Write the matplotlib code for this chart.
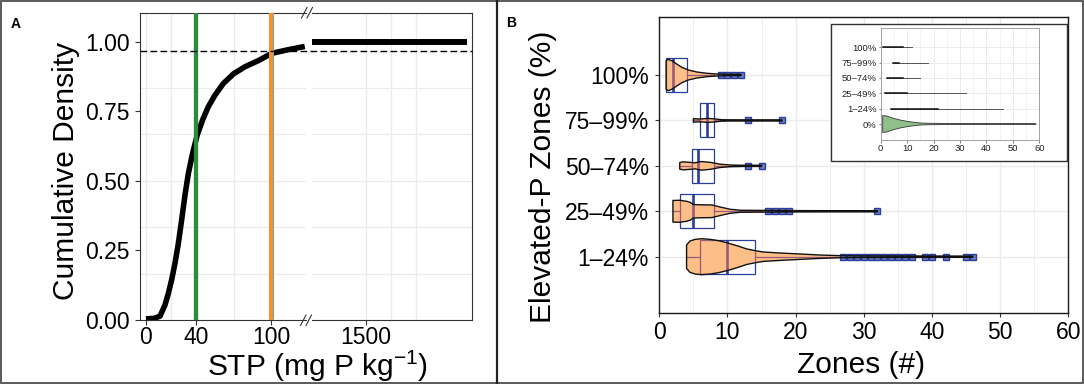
import matplotlib
matplotlib.use('Agg')
import matplotlib.pyplot as plt
from matplotlib.patches import Rectangle, Polygon
from matplotlib.lines import Line2D
import matplotlib.transforms as mtransforms
import numpy as np

plt.rcParams['font.family'] = ['Liberation Sans', 'DejaVu Sans']
plt.rcParams['mathtext.fontset'] = 'custom'
plt.rcParams['mathtext.rm'] = 'Liberation Sans'
plt.rcParams['mathtext.default'] = 'regular'

# ---------------- Panel A data ----------------
stp_values = [0, 6.7, 11.2, 15.2, 17.9, 20.5, 23.2, 25.9, 28.5, 31.2, 33.9, 37.3,
              41, 45.3, 49.8, 55.2, 61.9, 69.9, 79.2, 89.9, 100.5, 112.5, 127]
cum_density = [0.004, 0.006, 0.014, 0.054, 0.096, 0.144, 0.204, 0.276, 0.359, 0.449,
               0.527, 0.599, 0.665, 0.719, 0.766, 0.808, 0.850, 0.884, 0.910, 0.932,
               0.958, 0.970, 0.983]
stp_tail = [1283, 1903]
cum_tail = [1.0, 1.0]
threshold_low = 40
threshold_high = 100
ref_level = 0.965
a_xticks_left = [0, 40, 100]
a_xticks_right = [1500]
a_yticks = [0, 0.25, 0.5, 0.75, 1.0]
a_ytick_labels = ['0.00', '0.25', '0.50', '0.75', '1.00']

# ---------------- Panel B data ----------------
categories = ['1\u201324%', '25\u201349%', '50\u201374%', '75\u201399%', '100%']
box_q1 = [6, 3, 4.75, 6, 1]
box_med = [10, 5, 5.75, 7, 2]
box_q3 = [14, 8, 8, 8, 4]
whisk_lo = [4, 2, 3, 5, 1]
whisk_hi = [26, 15, 12, 9, 8]
outliers = [
    [27, 28, 29, 30, 31, 32, 33, 34, 35, 36, 37, 39, 40, 42, 45, 46],
    [16, 17, 18, 19, 32],
    [13, 15],
    [13, 18],
    [9, 10, 11, 12],
]
violin_x = [
    [4, 4.5, 5.25, 6.2, 7.5, 8.7, 9.9, 11.4, 12.85, 14.1, 15.3, 17.75, 20.7, 23.6, 26.6, 30, 46],
    [2, 3, 4, 4.5, 5, 6, 7.7, 8.9, 10.4, 11.9, 14, 19, 25, 32],
    [3, 3.5, 4.5, 5.2, 6.2, 7.45, 8.9, 10.4, 12, 15],
    [5, 6, 7.2, 8.4, 9.2, 11, 18],
    [1, 1.32, 1.82, 2.55, 3.3, 4.26, 5.5, 7, 8.4, 10, 12],
]
violin_half = [
    [0.258, 0.346, 0.381, 0.396, 0.381, 0.352, 0.308, 0.242, 0.170, 0.132, 0.103, 0.081, 0.059, 0.037, 0.022, 0.018, 0.013],
    [0.238, 0.242, 0.220, 0.198, 0.148, 0.143, 0.139, 0.095, 0.044, 0.022, 0.020, 0.015, 0.013, 0.013],
    [0.073, 0.088, 0.077, 0.066, 0.095, 0.077, 0.037, 0.018, 0.013, 0.013],
    [0.037, 0.031, 0.044, 0.029, 0.015, 0.013, 0.013],
    [0.315, 0.346, 0.315, 0.242, 0.170, 0.110, 0.066, 0.037, 0.022, 0.015, 0.013],
]
b_xticks = [0, 10, 20, 30, 40, 50, 60]

# ---------------- Inset data ----------------
inset_categories = ['0%', '1\u201324%', '25\u201349%', '50\u201374%', '75\u201399%', '100%']
inset_start = [3.8, 1.75, 2.5, 4.8, 1.0]
inset_dense_end = [21.7, 10, 8.4, 7.1, 8.4]
inset_end = [46.4, 32.4, 15, 18, 12]
zero_x = [0.76, 2.3, 4.8, 7.3, 9.9, 12.5, 15, 19, 27, 58.7]
zero_half = [0.55, 0.52, 0.37, 0.26, 0.176, 0.111, 0.065, 0.046, 0.030, 0.02]

# ---------------- Styling ----------------
W, H = 1084, 384
GRID = '#ebebeb'
ORANGE_FILL = '#fdbf87'
BLUE = '#2b3d9c'
MAUVE = '#9a5a7a'
GREEN = '#2e8b3e'
ORANGE = '#f7931e'
TICK_FS = 16.5
TITLE_FS = 21.5

fig = plt.figure(figsize=(W / 100, H / 100), dpi=100)
fig.patch.set_facecolor('white')


def rect(l, t, r, b):
    return [l / W, 1 - b / H, (r - l) / W, (b - t) / H]


def fx(px):
    return px / W


def fy(py):
    return 1 - py / H


# ============ Panel A ============
axL = fig.add_axes(rect(140, 13.3, 306, 320))
axR = fig.add_axes(rect(311.7, 13.3, 472.3, 320))
for ax in (axL, axR):
    ax.set_ylim(0, 1.102)
    for s in ax.spines.values():
        s.set_color('#333333')
        s.set_linewidth(0.8)
    ax.tick_params(colors='#333333', length=3.6, width=0.8, labelsize=TICK_FS,
                   labelcolor='black', pad=0.8)
    for k in range(1, 6):
        ax.axhline(k / 6, color=GRID, lw=0.9, zorder=0.5)
axL.set_xlim(-4.8, 128)
axR.set_xlim(1283, 1925.4)
axL.spines['right'].set_visible(False)
axR.spines['left'].set_visible(False)
axR.tick_params(axis='y', left=False, labelleft=False)
axL.tick_params(axis='y', pad=3.6)

for v in [0, 20, 40, 70, 100]:
    axL.axvline(v, color=GRID, lw=0.9, zorder=0.5)
for v in [1500, 1600, 1700]:
    axR.axvline(v, color=GRID, lw=0.9, zorder=0.5)

axL.set_xticks(a_xticks_left)
axL.set_xticklabels([str(v) for v in a_xticks_left])
axR.set_xticks(a_xticks_right)
axR.set_xticklabels([str(v) for v in a_xticks_right])
axL.set_yticks(a_yticks)
axL.set_yticklabels(a_ytick_labels)

axL.plot(stp_values, cum_density, color='black', lw=4.0, zorder=3,
         solid_capstyle='butt', solid_joinstyle='round')
axR.plot(stp_tail, cum_tail, color='black', lw=4.3, zorder=3,
         solid_capstyle='butt')

axL.axvline(threshold_low, color=GREEN, lw=3.1, zorder=4)
axL.axvline(threshold_high, color='#8a9ab0', lw=3.6, zorder=4)
axL.axvline(threshold_high, color=ORANGE, lw=2.7, zorder=4.1)

# dashed reference line spanning both segments
bt = mtransforms.blended_transform_factory(fig.transFigure, axL.transData)
fig.add_artist(Line2D([fx(140), fx(472.3)], [ref_level, ref_level], transform=bt,
                      color='black', lw=1.0, dashes=(4.8, 2.4), zorder=5))

# break marks
for (x0, y0) in [(301.5, 18.0), (307.0, 18.0), (300.5, 325.5), (306.0, 325.5)]:
    fig.add_artist(Line2D([fx(x0), fx(x0 + 5.5)], [fy(y0), fy(y0 - 10.5)],
                          transform=fig.transFigure, color='#333333', lw=0.8))

fig.text(fx(74), fy(170.7), 'Cumulative Density', rotation=90, rotation_mode='anchor',
         ha='center', va='baseline', fontsize=TITLE_FS)
fig.text(fx(317), fy(376.5), 'STP (mg P kg$^{-1}$)', ha='center', va='baseline',
         fontsize=TITLE_FS)
fig.text(fx(11), fy(28), 'A', fontsize=10, fontweight='bold', ha='left', va='baseline')

# ============ Panel B ============
axB = fig.add_axes(rect(659.3, 17.3, 1068.3, 313.3))
axB.set_xlim(0, 60)
axB.set_ylim(-0.246, 6.27)
for s in axB.spines.values():
    s.set_color('#1a1a1a')
    s.set_linewidth(1.0)
for v in range(5, 60, 10):
    axB.axvline(v, color=GRID, lw=0.6, zorder=0.5)
for v in range(0, 61, 10):
    axB.axvline(v, color=GRID, lw=1.0, zorder=0.5)
for p in range(1, 6):
    axB.axhline(p, color=GRID, lw=1.0, zorder=0.5)
axB.set_xticks(b_xticks)
axB.set_xticklabels([str(v) for v in b_xticks])
axB.set_yticks(range(1, 6))
axB.set_yticklabels(categories)
axB.tick_params(colors='#333333', length=3.1, width=0.8, labelsize=TICK_FS,
                labelcolor='black')
axB.tick_params(axis='y', pad=4.4)
axB.tick_params(axis='x', pad=2.4)


def draw_box(ax, pos, i, color, z, clip=None, hw=0.375):
    arts = []
    r = Rectangle((box_q1[i], pos - hw), box_q3[i] - box_q1[i], 2 * hw, fill=False,
                  edgecolor=color, lw=0.9, zorder=z)
    ax.add_patch(r)
    arts.append(r)
    arts += ax.plot([box_med[i], box_med[i]], [pos - hw, pos + hw], color=color,
                    lw=1.9, zorder=z, solid_capstyle='butt')
    arts += ax.plot([whisk_lo[i], box_q1[i]], [pos, pos], color=color, lw=0.9, zorder=z)
    arts += ax.plot([box_q3[i], whisk_hi[i]], [pos, pos], color=color, lw=0.9, zorder=z)
    if clip is not None:
        for a in arts:
            a.set_clip_path(clip)


for i, cat in enumerate(categories):
    pos = i + 1
    xs = np.asarray(violin_x[i], dtype=float)
    hs = np.asarray(violin_half[i], dtype=float)
    verts = np.column_stack([np.r_[xs, xs[::-1]], np.r_[pos + hs, (pos - hs)[::-1]]])
    draw_box(axB, pos, i, BLUE, 2)
    vfill = Polygon(verts, closed=True, facecolor=ORANGE_FILL, edgecolor='none', zorder=3)
    axB.add_patch(vfill)
    draw_box(axB, pos, i, MAUVE, 4, clip=vfill)
    axB.plot(outliers[i], [pos] * len(outliers[i]), linestyle='none', marker='s',
             markersize=4.2, markerfacecolor='#6b7dc2', markeredgecolor=BLUE,
             markeredgewidth=1.0, zorder=4.5)
    vline = Polygon(verts, closed=True, fill=False, edgecolor='#111111', lw=1.0,
                    zorder=5, joinstyle='round')
    axB.add_patch(vline)

fig.text(fx(551), fy(177), 'Elevated-P Zones (%)', rotation=90, rotation_mode='anchor',
         ha='center', va='baseline', fontsize=TITLE_FS)
fig.text(fx(861), fy(373), 'Zones (#)', ha='center', va='baseline', fontsize=TITLE_FS)
fig.text(fx(506), fy(27), 'B', fontsize=10, fontweight='bold', ha='left', va='baseline')

# ============ Inset ============
fig.add_artist(Rectangle((fx(830.7), fy(160.7)), (236.6) / W, (136.4) / H,
                         transform=fig.transFigure, facecolor='white',
                         edgecolor='#333333', lw=1.0, zorder=1))
axI = fig.add_axes(rect(880.7, 28, 1039.3, 140))
axI.set_zorder(2)
axI.set_xlim(0, 60)
axI.set_ylim(-0.043, 7.26)
for s in axI.spines.values():
    s.set_color('#a0a0a0')
    s.set_linewidth(0.7)
for v in range(5, 60, 10):
    axI.axvline(v, color=GRID, lw=0.4, zorder=0.5)
for v in range(0, 61, 10):
    axI.axvline(v, color=GRID, lw=0.7, zorder=0.5)
for p in range(1, 7):
    axI.axhline(p, color=GRID, lw=0.7, zorder=0.5)
axI.set_xticks(b_xticks)
axI.set_xticklabels([str(v) for v in b_xticks])
axI.set_yticks(range(1, 7))
axI.set_yticklabels(inset_categories)
axI.tick_params(colors='#555555', length=1.8, width=0.5, labelsize=6.8,
                labelcolor='#222222', pad=1.2)

zx = np.asarray(zero_x, dtype=float)
zh = np.asarray(zero_half, dtype=float)
zverts = np.column_stack([np.r_[zx, zx[::-1]], np.r_[1 + zh, (1 - zh)[::-1]]])
axI.add_patch(Polygon(zverts, closed=True, facecolor='#8fc08a', edgecolor='#333333',
                      lw=0.6, zorder=3, joinstyle='round'))
for j in range(5):
    pos = j + 2
    axI.plot([inset_start[j], inset_end[j]], [pos, pos], color='#555555', lw=0.7, zorder=3)
    axI.plot([inset_start[j], inset_dense_end[j]], [pos, pos], color='#111111', lw=1.1,
             zorder=3.5)

# ============ Figure frame ============
fig.add_artist(Rectangle((fx(1), fy(382.5)), (W - 2) / W, 381.5 / H,
                         transform=fig.transFigure, fill=False, edgecolor='#4d4d4d',
                         lw=1.3, zorder=10))
fig.add_artist(Line2D([fx(497.5), fx(497.5)], [fy(1), fy(382.5)], transform=fig.transFigure,
                      color='#222222', lw=1.6, zorder=10))

fig.savefig('out.png', dpi=100, facecolor='white')
